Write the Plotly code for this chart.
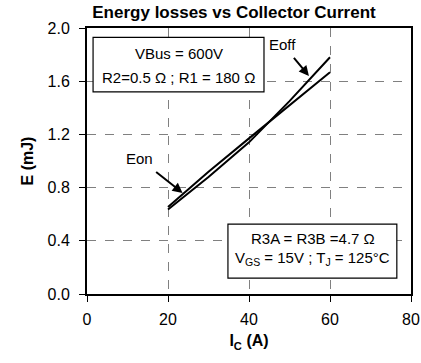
import plotly.graph_objects as go

ic = [20, 30, 40, 50, 60]
eoff = [0.635, 0.88, 1.14, 1.45, 1.78]
eon = [0.655, 0.92, 1.17, 1.42, 1.667]

x_ticks = [0, 20, 40, 60, 80]
y_ticks = [0.0, 0.4, 0.8, 1.2, 1.6, 2.0]

FONT = "Liberation Sans, Arial, sans-serif"

fig = go.Figure()
fig.add_trace(go.Scatter(x=ic, y=eoff, mode="lines", line=dict(color="black", width=2), name="Eoff"))
fig.add_trace(go.Scatter(x=ic, y=eon, mode="lines", line=dict(color="black", width=2), name="Eon"))

fig.update_layout(
    width=421, height=363,
    margin=dict(l=87, r=10, t=28, b=69, autoexpand=False),
    paper_bgcolor="white", plot_bgcolor="white",
    showlegend=False,
    font=dict(family=FONT, size=16, color="black"),
    title=dict(text="<b>Energy losses vs Collector Current</b>", x=234 / 421, xanchor="center",
               xref="container", yref="container", y=1 - 12 / 363, yanchor="middle",
               font=dict(size=17, family=FONT)),
)
fig.update_xaxes(range=[0, 80], tickvals=x_ticks, ticktext=[str(v) for v in x_ticks],
                 showgrid=True, gridcolor="#808080", griddash="dash", gridwidth=1.2,
                 showline=True, linecolor="black", linewidth=2, mirror=True,
                 ticks="outside", ticklen=6, tickcolor="black", automargin=False,
                 zeroline=False, tickfont=dict(size=16), ticklabelstandoff=4,
                 title=dict(text="<b>I<sub>C</sub> (A)</b>", font=dict(size=16), standoff=8))
fig.update_yaxes(range=[0, 2.0], tickvals=y_ticks, ticktext=[f"{v:.1f}" for v in y_ticks],
                 showgrid=True, gridcolor="#808080", griddash="dash", gridwidth=1.2,
                 showline=True, linecolor="black", linewidth=2, mirror=True,
                 ticks="outside", ticklen=6, tickcolor="black", automargin=False,
                 zeroline=False, tickfont=dict(size=16), ticklabelstandoff=6,
                 title=dict(text="<b>E (mJ)</b>", font=dict(size=16), standoff=10))

# boxes
fig.add_shape(type="rect", xref="x", yref="y", x0=1.5, x1=43.7, y0=1.52, y1=1.93,
              line=dict(color="black", width=1.2), fillcolor="white", layer="above")
fig.add_shape(type="rect", xref="x", yref="y", x0=34.8, x1=76.5, y0=0.12, y1=0.526,
              line=dict(color="black", width=1.2), fillcolor="white", layer="above")

fig.add_annotation(x=22.6, y=1.81, xref="x", yref="y", text="VBus = 600V", showarrow=False,
                   font=dict(size=15))
fig.add_annotation(x=22.6, y=1.63, xref="x", yref="y", text="R2=0.5 Ω ; R1 = 180 Ω", showarrow=False,
                   font=dict(size=15))
fig.add_annotation(x=55.8, y=0.42, xref="x", yref="y", text="R3A = R3B =4.7 Ω", showarrow=False,
                   font=dict(size=15))
fig.add_annotation(x=55.6, y=0.265, xref="x", yref="y", text="V<sub>GS</sub> = 15V ; T<sub>J</sub> = 125°C",
                   showarrow=False, font=dict(size=15))

# labels with arrows
fig.add_annotation(x=54.8, y=1.64, xref="x", yref="y", text="Eoff", showarrow=True,
                   ax=-26, ay=-31, startstandoff=4, arrowhead=2, arrowsize=1, arrowwidth=2,
                   arrowcolor="black", font=dict(size=15))
fig.add_annotation(x=23.6, y=0.76, xref="x", yref="y", text="Eon", showarrow=True,
                   ax=-43, ay=-34, startstandoff=5, arrowhead=2, arrowsize=1, arrowwidth=2,
                   arrowcolor="black", font=dict(size=15))

fig.write_html("out.html")
